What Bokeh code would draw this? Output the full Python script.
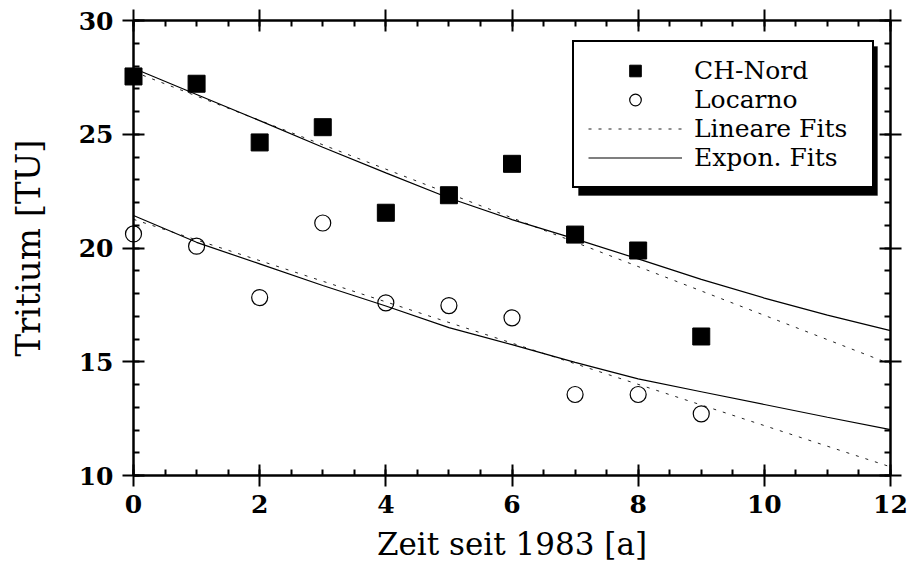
from bokeh.plotting import figure
from bokeh.models import (LinearAxis, FixedTicker, Legend, LegendItem, BoxAnnotation,
                          CustomJSTickFormatter, Range1d)
from bokeh.embed import file_html
from bokeh.resources import INLINE

# ---- data ----
years = [0, 1, 2, 3, 4, 5, 6, 7, 8, 9]
ch_nord = [27.54, 27.22, 24.64, 25.31, 21.55, 22.32, 23.70, 20.59, 19.89, 16.11]
locarno = [20.62, 20.08, 17.82, 21.10, 17.59, 17.47, 16.93, 13.56, 13.56, 12.71]

fit_x = [0, 1, 2, 3, 4, 5, 6, 7, 8, 9, 10, 11, 12]
ch_nord_exp = [27.90, 26.75, 25.60, 24.43, 23.30, 22.20, 21.25, 20.40, 19.52, 18.62, 17.80, 17.05, 16.37]
locarno_exp = [21.43, 20.25, 19.30, 18.35, 17.45, 16.50, 15.75, 14.97, 14.25, 13.68, 13.12, 12.56, 12.02]

lin_x = [0, 12]
ch_nord_lin = [27.75, 14.90]
locarno_lin = [21.26, 10.38]

x_major = [0, 2, 4, 6, 8, 10, 12]
x_minor = [v * 0.5 for v in range(0, 25)]
y_major = [10, 15, 20, 25, 30]
y_minor = list(range(10, 31))

labels = ["CH-Nord", "Locarno", "Lineare Fits", "Expon. Fits"]

SERIF = "DejaVu Serif"

p = figure(width=908, height=575, output_backend="svg", toolbar_location=None,
           x_range=Range1d(0, 12), y_range=Range1d(10, 30),
           min_border_left=133, min_border_right=18, min_border_top=20, min_border_bottom=100)
p.outline_line_color = None
p.xgrid.visible = False
p.ygrid.visible = False
p.background_fill_color = "white"
p.border_fill_color = "white"

# fits
r_lin1 = p.line(lin_x, ch_nord_lin, line_color="#222222", line_width=1, line_dash="3 7")
r_lin2 = p.line(lin_x, locarno_lin, line_color="#222222", line_width=1, line_dash="3 7")
r_exp1 = p.line(fit_x, ch_nord_exp, line_color="black", line_width=1.2)
r_exp2 = p.line(fit_x, locarno_exp, line_color="black", line_width=1.2)

# data points
r_sq = p.scatter(years, ch_nord, marker="square", size=17, fill_color="black", line_color="black")
r_ci = p.scatter(years, locarno, marker="circle", size=16, fill_color=None, line_color="black", line_width=1.2)
r_sq.level = "overlay"
r_ci.level = "overlay"


def style_axis(ax, major, minor, show_labels):
    ax.ticker = FixedTicker(ticks=major, minor_ticks=minor)
    ax.axis_line_width = 2.5
    ax.axis_line_color = "black"
    ax.major_tick_line_width = 2
    ax.minor_tick_line_width = 2
    ax.major_tick_in = 11
    ax.major_tick_out = 11
    ax.minor_tick_in = 6
    ax.minor_tick_out = 0
    if show_labels:
        ax.major_label_text_font = SERIF
        ax.major_label_text_font_style = "bold"
        ax.major_label_text_font_size = "25px"
        ax.major_label_text_color = "black"
        ax.axis_label_text_font = SERIF
        ax.axis_label_text_font_style = "normal"
        ax.axis_label_text_font_size = "31px"
        ax.axis_label_text_color = "black"
    else:
        ax.formatter = CustomJSTickFormatter(code="return ''")
        ax.major_label_text_font_size = "0px"
        ax.major_label_standoff = 0


xa = p.xaxis[0]
ya = p.yaxis[0]
style_axis(xa, x_major, x_minor, True)
style_axis(ya, y_major, y_minor, True)
xa.axis_label = "Zeit seit 1983 [a]"
ya.axis_label = "Tritium [TU]"
ya.axis_label_text_font_size = "34px"
xa.major_label_standoff = 8
ya.major_label_standoff = 9
xa.axis_label_standoff = 10
ya.axis_label_standoff = 28

top_ax = LinearAxis()
right_ax = LinearAxis()
style_axis(top_ax, x_major, x_minor, False)
style_axis(right_ax, y_major, y_minor, False)
p.add_layout(top_ax, "above")
p.add_layout(right_ax, "right")

# legend shadow (drawn behind the legend box)
px_x = 757 / 12.0
px_y = 455 / 20.0
shadow = BoxAnnotation(left=(578 - 133) / px_x, right=(877 - 133) / px_x,
                       top=30 - (46 - 20) / px_y, bottom=30 - (195 - 20) / px_y,
                       fill_color="black", fill_alpha=1, line_color="black", level="underlay")
p.add_layout(shadow)

legend = Legend(items=[
    LegendItem(label=labels[0], renderers=[r_sq]),
    LegendItem(label=labels[1], renderers=[r_ci]),
    LegendItem(label=labels[2], renderers=[r_lin1]),
    LegendItem(label=labels[3], renderers=[r_exp1]),
], location=(572 - 133, 475 - 188))
legend.margin = 0
legend.padding = 14
legend.spacing = 0
legend.glyph_width = 94
legend.glyph_height = 29
legend.label_height = 29
legend.label_width = 164
legend.label_standoff = 12
legend.label_text_font = SERIF
legend.label_text_font_size = "25px"
legend.label_text_color = "black"
legend.border_line_color = "black"
legend.border_line_alpha = 1
legend.border_line_width = 2
legend.background_fill_color = "white"
legend.background_fill_alpha = 1
p.add_layout(legend)

open("out.html", "w").write(file_html(p, INLINE))
